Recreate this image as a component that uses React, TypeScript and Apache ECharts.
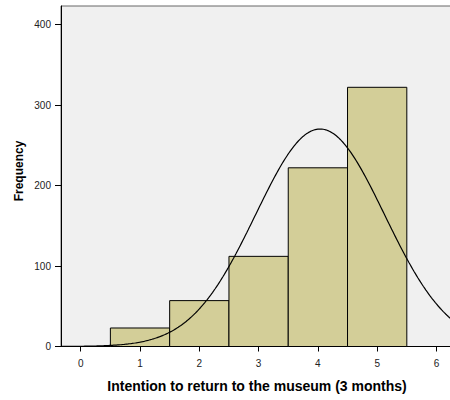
import React, { useEffect, useRef } from "react";
import * as echarts from "echarts";

const categories = [1, 2, 3, 4, 5];
const frequencies = [23, 57, 112, 222, 322];
const xTicks = [0, 1, 2, 3, 4, 5, 6];
const yTicks = [0, 100, 200, 300, 400];
const xTitle = "Intention to return to the museum (3 months)";
const yTitle = "Frequency";

const X_MIN = -0.333;
const X_MAX = 6.333;
const Y_MAX = 423;
const BAR_FILL = "#d3ce98";
const FONT = "'Liberation Sans', Arial, Helvetica, sans-serif";

function normalCurve(): number[][] {
  const n = frequencies.reduce((a, b) => a + b, 0);
  const mean = categories.reduce((s, c, i) => s + c * frequencies[i], 0) / n;
  const ss = categories.reduce((s, c, i) => s + frequencies[i] * (c - mean) ** 2, 0);
  const sd = Math.sqrt(ss / (n - 1));
  const pts: number[][] = [];
  const steps = 300;
  for (let k = 0; k <= steps; k++) {
    const x = X_MIN + ((X_MAX - X_MIN) * k) / steps;
    const z = (x - mean) / sd;
    pts.push([x, (n / (sd * Math.sqrt(2 * Math.PI))) * Math.exp(-0.5 * z * z)]);
  }
  return pts;
}

export default function App() {
  const ref = useRef<HTMLDivElement>(null);
  useEffect(() => {
    if (!ref.current) return;
    const chart = echarts.init(ref.current, null, { renderer: "svg" });
    chart.setOption({
      animation: false,
      backgroundColor: "#ffffff",
      grid: {
        left: 61,
        right: 3.8,
        top: 6,
        bottom: 53.5,
        show: true,
        backgroundColor: "#f0f0f0",
        borderColor: "#666666",
        borderWidth: 1,
      },
      xAxis: {
        type: "value",
        min: X_MIN,
        max: X_MAX,
        axisLine: { show: true, onZero: false, lineStyle: { color: "#000", width: 1 } },
        axisTick: { show: true, length: 5, customValues: xTicks, lineStyle: { color: "#000" } },
        axisLabel: {
          customValues: xTicks,
          margin: 12,
          fontSize: 10,
          fontFamily: FONT,
          color: "#222",
        },
        splitLine: { show: false },
      },
      yAxis: {
        type: "value",
        min: 0,
        max: Y_MAX,
        axisLine: { show: true, onZero: false, lineStyle: { color: "#000", width: 1 } },
        axisTick: { show: true, length: 6, customValues: yTicks, lineStyle: { color: "#000" } },
        axisLabel: {
          customValues: yTicks,
          margin: 10,
          fontSize: 10,
          fontFamily: FONT,
          color: "#222",
        },
        splitLine: { show: false },
      },
      series: [
        {
          type: "custom",
          data: categories.map((c, i) => [c, frequencies[i]]),
          encode: { x: 0, y: 1 },
          z: 2,
          renderItem: (params: any, api: any) => {
            const x = api.value(0);
            const y = api.value(1);
            const p0 = api.coord([x - 0.5, y]);
            const p1 = api.coord([x + 0.5, 0]);
            return {
              type: "rect",
              shape: { x: p0[0], y: p0[1], width: p1[0] - p0[0], height: p1[1] - p0[1] },
              style: { fill: BAR_FILL, stroke: "#000", lineWidth: 1 },
            };
          },
        },
        {
          type: "line",
          data: normalCurve(),
          showSymbol: false,
          smooth: false,
          z: 3,
          lineStyle: { color: "#000", width: 1.2 },
        },
      ],
      graphic: [
        {
          type: "text",
          x: 18.5,
          y: 171,
          rotation: Math.PI / 2,
          style: {
            text: yTitle,
            fontSize: 12,
            fontWeight: "bold",
            fontFamily: FONT,
            fill: "#000",
            align: "center",
            verticalAlign: "middle",
          },
        },
        {
          type: "text",
          x: 257,
          y: 385.5,
          style: {
            text: xTitle,
            fontSize: 14,
            fontWeight: "bold",
            fontFamily: FONT,
            fill: "#000",
            align: "center",
            verticalAlign: "middle",
          },
        },
      ],
    });
    return () => chart.dispose();
  }, []);
  return (
    <div
      style={{
        position: "fixed",
        left: 0,
        top: 0,
        width: 450,
        height: 400,
        overflow: "hidden",
        background: "#fff",
      }}
    >
      <div ref={ref} style={{ width: 460, height: 400 }} />
    </div>
  );
}
